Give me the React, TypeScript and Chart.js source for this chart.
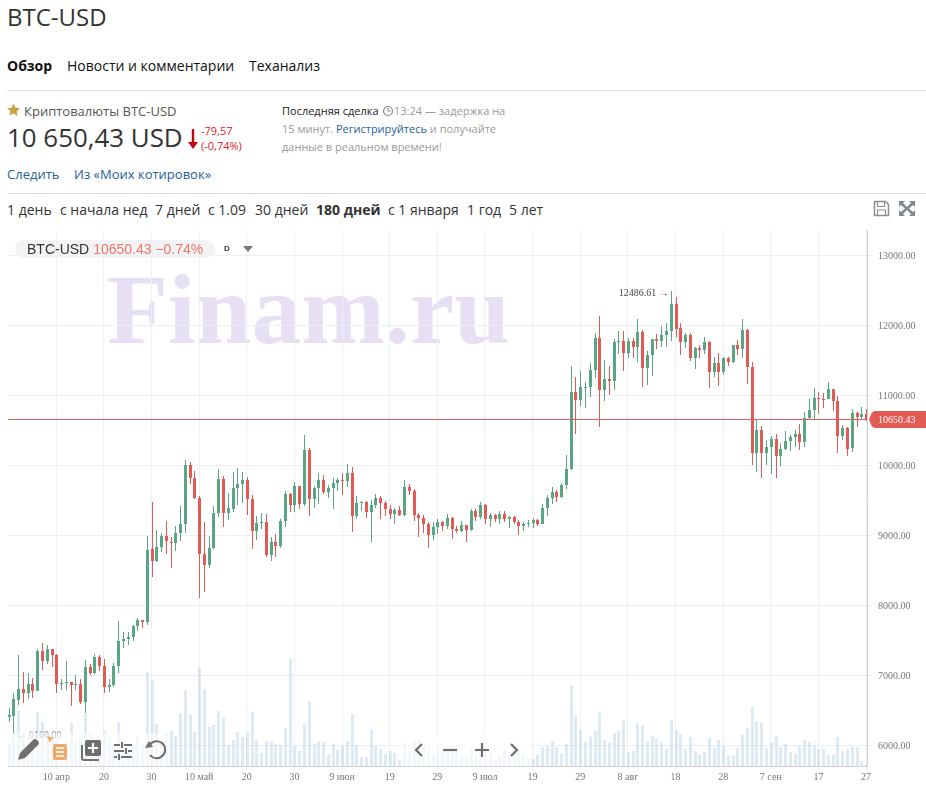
import React, { useEffect, useRef } from "react";
import { Chart, registerables } from "chart.js";

Chart.register(...registerables);

const lastPrice = 10650.43;
const highMark = 12486.61;
const lowMark = 6160;
const tickDays = [10, 20, 30, 40, 50, 60, 70, 80, 90, 100, 110, 120, 130, 140, 150, 160, 170, 180];
const tickLabels = ["10 апр", "20", "30", "10 май", "20", "30", "9 июн", "19", "29", "9 июл", "19", "29", "8 авг", "18", "28", "7 сен", "17", "27"];
const priceTicks = [6000, 7000, 8000, 9000, 10000, 11000, 12000, 13000];
const periods: [string, number, boolean][] = [
  ["1 день", 7, false], ["с начала нед", 60, false], ["7 дней", 155, false], ["с 1.09", 208, false],
  ["30 дней", 255, false], ["180 дней", 316, true], ["с 1 января", 388, false], ["1 год", 467, false], ["5 лет", 509, false],
];

const opens = [
  6410, 6426, 6650, 6807, 6745, 6879, 6779, 7350, 7207, 7378,
  7293, 6886, 6896, 6907, 6870, 6879, 6621, 7121, 7036, 7264,
  7136, 6836, 6864, 7136, 7493, 7521, 7550, 7707, 7793, 7764,
  8807, 8636, 8836, 8993, 8907, 8893, 9036, 9164, 10007, 9821,
  9536, 8736, 8579, 8821, 9321, 9807, 9321, 9379, 9679, 9736,
  9793, 9521, 9064, 9179, 9193, 8721, 8907, 8850, 9207, 9593,
  9436, 9707, 9450, 10221, 9521, 9679, 9793, 9621, 9679, 9750,
  9793, 9779, 9893, 9279, 9464, 9479, 9336, 9436, 9536, 9464,
  9379, 9307, 9364, 9293, 9693, 9636, 9293, 9250, 9164, 9007,
  9121, 9193, 9136, 9250, 9093, 9064, 9150, 9079, 9350, 9264,
  9436, 9236, 9293, 9236, 9307, 9236, 9264, 9193, 9136, 9164,
  9178, 9221, 9164, 9393, 9536, 9621, 9550, 9721, 9950, 11050,
  10936, 11114, 11121, 11364, 11821, 11079, 11236, 11207, 11771, 11778,
  11607, 11778, 11693, 11907, 11393, 11579, 11807, 11779, 11864, 11921,
  12307, 11964, 11764, 11864, 11536, 11679, 11650, 11764, 11336, 11464,
  11336, 11536, 11479, 11721, 11664, 11936, 11407, 10179, 10507, 10179,
  10264, 10379, 10136, 10236, 10350, 10407, 10450, 10336, 10679, 10793,
  10964, 10950, 10950, 11093, 10921, 10421, 10536, 10250, 10750, 10693,
  10736,
];
const closes = [
  6430, 6664, 6807, 6755, 6879, 6779, 7350, 7212, 7378, 7293,
  6879, 6893, 6900, 6864, 6875, 6621, 7121, 7036, 7264, 7136,
  6836, 6864, 7136, 7493, 7521, 7550, 7707, 7793, 7764, 8793,
  8640, 8836, 8993, 8921, 8893, 9036, 9164, 10007, 9821, 9536,
  8736, 8579, 8821, 9321, 9807, 9321, 9393, 9679, 9736, 9793,
  9521, 9064, 9179, 9193, 8721, 8907, 8850, 9207, 9593, 9436,
  9707, 9450, 10221, 9521, 9679, 9793, 9621, 9679, 9750, 9793,
  9779, 9893, 9279, 9464, 9479, 9336, 9436, 9536, 9464, 9379,
  9307, 9364, 9293, 9693, 9636, 9293, 9250, 9164, 9007, 9121,
  9193, 9136, 9250, 9093, 9064, 9150, 9079, 9350, 9264, 9436,
  9236, 9293, 9236, 9307, 9236, 9264, 9193, 9136, 9164, 9178,
  9221, 9164, 9393, 9536, 9621, 9550, 9721, 9950, 11050, 10936,
  11121, 11121, 11364, 11821, 11079, 11236, 11207, 11764, 11778, 11607,
  11778, 11693, 11907, 11393, 11579, 11807, 11779, 11864, 11921, 12307,
  11950, 11764, 11864, 11536, 11679, 11650, 11764, 11336, 11464, 11336,
  11536, 11479, 11721, 11664, 11936, 11407, 10179, 10507, 10179, 10264,
  10379, 10136, 10236, 10350, 10407, 10450, 10336, 10679, 10793, 10964,
  10950, 10940, 11093, 10921, 10421, 10536, 10236, 10750, 10693, 10736,
  10650.43,
];
const highs = [
  6540, 6745, 7293, 7050, 7036, 6960, 7378, 7464, 7436, 7378,
  7307, 6950, 7207, 6907, 7007, 6950, 7221, 7164, 7307, 7293,
  7236, 6950, 7179, 7779, 7621, 7621, 7721, 7821, 7793, 8993,
  9479, 9079, 9036, 9207, 8979, 9136, 9421, 10079, 10050, 9921,
  9564, 9193, 8993, 9421, 9950, 9850, 9607, 9907, 9964, 9907,
  9836, 9579, 9279, 9321, 9307, 8979, 9021, 9236, 9636, 9607,
  9764, 9707, 10436, 10250, 9707, 9893, 9864, 9721, 9821, 9821,
  9893, 10021, 9979, 9564, 9493, 9493, 9507, 9593, 9564, 9493,
  9436, 9393, 9421, 9793, 9736, 9664, 9321, 9293, 9193, 9193,
  9236, 9207, 9307, 9264, 9136, 9207, 9150, 9379, 9379, 9479,
  9450, 9321, 9307, 9350, 9350, 9279, 9279, 9221, 9193, 9221,
  9250, 9236, 9450, 9579, 9693, 9650, 9750, 10150, 11421, 11264,
  11350, 11193, 11464, 11893, 12136, 11507, 11421, 11807, 11921, 11921,
  11821, 11821, 12093, 11936, 11636, 11807, 11879, 11993, 12036, 12486.61,
  12407, 12036, 11893, 11893, 11693, 11721, 11836, 11779, 11550, 11607,
  11550, 11550, 11721, 11793, 12093, 11950, 11479, 10650, 10564, 10364,
  10421, 10450, 10321, 10493, 10436, 10507, 10593, 10764, 10950, 11107,
  11050, 11036, 11193, 11093, 10993, 10579, 10550, 10807, 10764, 10836,
  10807,
];
const lows = [
  6340, 6160, 6578, 6612, 6664, 6679, 6779, 7079, 7164, 7121,
  6755, 6793, 6793, 6564, 6793, 6593, 6469, 7007, 7021, 7064,
  6750, 6764, 6840, 7036, 7393, 7436, 7493, 7636, 7679, 7721,
  8407, 8621, 8764, 8736, 8536, 8779, 8921, 9036, 9736, 9521,
  8107, 8193, 8536, 8807, 9264, 9121, 9221, 9336, 9436, 9464,
  9293, 8807, 8936, 9093, 8693, 8636, 8693, 8821, 9121, 9336,
  9336, 9379, 9421, 9279, 9393, 9450, 9593, 9536, 9379, 9636,
  9579, 9693, 9050, 9236, 9350, 9250, 8907, 9393, 9236, 9279,
  9236, 9164, 9279, 9279, 9579, 9207, 8979, 9036, 8821, 8936,
  9021, 9064, 9093, 8950, 9036, 9050, 8907, 9064, 9207, 9236,
  9164, 9121, 9193, 9164, 9193, 9107, 9164, 9007, 9064, 9121,
  9107, 9136, 9164, 9279, 9450, 9479, 9536, 9664, 9936, 10450,
  10850, 10821, 10979, 11250, 10550, 10921, 11007, 11079, 11593, 11350,
  11536, 11536, 11479, 11121, 11150, 11279, 11664, 11693, 11693, 11779,
  11836, 11579, 11679, 11493, 11379, 11536, 11593, 11107, 11264, 11136,
  11293, 11421, 11464, 11579, 11536, 11164, 10007, 9907, 9821, 10007,
  9879, 9821, 9993, 10221, 10207, 10264, 10221, 10264, 10650, 10664,
  10736, 10821, 10950, 10779, 10179, 10364, 10136, 10193, 10550, 10664,
  10636,
];
const volumes = [
  23, 33, 55, 33, 29, 29, 54, 44, 33, 31,
  26, 19, 25, 43, 24, 28, 53, 33, 26, 24,
  35, 28, 21, 44, 22, 22, 21, 30, 21, 94,
  86, 42, 22, 33, 35, 30, 53, 76, 51, 34,
  98, 77, 39, 41, 55, 49, 21, 26, 34, 29,
  33, 54, 26, 13, 25, 24, 22, 21, 38, 107,
  20, 15, 42, 64, 22, 24, 24, 12, 22, 16,
  20, 25, 52, 21, 9, 9, 36, 20, 17, 12,
  15, 13, 6, 23, 15, 26, 26, 20, 16, 11,
  17, 13, 17, 21, 16, 10, 9, 19, 12, 16,
  17, 13, 6, 10, 17, 14, 17, 16, 12, 8,
  7, 11, 19, 20, 25, 19, 13, 22, 81, 50,
  36, 24, 30, 35, 54, 26, 23, 32, 35, 46,
  14, 15, 43, 40, 25, 30, 27, 24, 17, 46,
  36, 32, 17, 29, 15, 11, 14, 28, 18, 26,
  20, 10, 11, 18, 31, 38, 59, 45, 43, 18,
  23, 30, 19, 22, 14, 12, 20, 26, 24, 21,
  17, 17, 11, 11, 29, 15, 17, 19, 19, 5,
  2,
];

const GREEN = "#59a584";
const RED = "#e15a54";
const SERIF = '"Liberation Serif", serif';
const SANS = '"Open Sans", sans-serif';

const snapPlugin = {
  id: "snap",
  beforeDatasetsDraw(chart: any) {
    chart.data.datasets.forEach((_: any, d: number) => {
      chart.getDatasetMeta(d).data.forEach((el: any) => {
        el.x = Math.round(el.x) + 0.5;
        el.y = Math.round(el.y);
        el.base = Math.round(el.base);
        if (Math.abs(el.y - el.base) < 1) el.base = el.y + 1;
      });
    });
  },
};

const watermarkPlugin = {
  id: "watermark",
  beforeDraw(chart: any) {
    const ctx = chart.ctx;
    ctx.save();
    ctx.font = `bold 100px ${SERIF}`;
    ctx.fillStyle = "#e7e0f4";
    ctx.textBaseline = "alphabetic";
    ctx.textAlign = "left";
    ctx.fillText("Finam.ru", 107, 113);
    ctx.restore();
  },
};

const marksPlugin = {
  id: "marks",
  afterDatasetsDraw(chart: any) {
    const { ctx, chartArea: area, scales } = chart;
    const y = Math.round(scales.y.getPixelForValue(lastPrice)) - 0.5;
    ctx.save();
    ctx.strokeStyle = "#d8635e";
    ctx.lineWidth = 1;
    ctx.beginPath();
    ctx.moveTo(area.left, y);
    ctx.lineTo(area.right, y);
    ctx.stroke();
    ctx.fillStyle = RED;
    ctx.beginPath();
    ctx.moveTo(926, y - 8.5);
    ctx.lineTo(876, y - 8.5);
    ctx.quadraticCurveTo(872, y - 8.5, 871, y - 5);
    ctx.lineTo(869, y);
    ctx.lineTo(871, y + 5);
    ctx.quadraticCurveTo(872, y + 8.5, 876, y + 8.5);
    ctx.lineTo(926, y + 8.5);
    ctx.closePath();
    ctx.fill();
    ctx.font = `10px ${SERIF}`;
    ctx.fillStyle = "#fff";
    ctx.textBaseline = "middle";
    ctx.textAlign = "left";
    ctx.fillText(lastPrice.toFixed(2), 878, y + 1);

    ctx.fillStyle = "#444";
    ctx.textAlign = "right";
    const hx = scales.x.getPixelForValue(highs.indexOf(highMark));
    const hy = scales.y.getPixelForValue(highMark);
    ctx.fillText(highMark.toFixed(2) + " →", hx - 2, hy + 2);
    ctx.fillStyle = "#808080";
    ctx.textAlign = "left";
    const lx = scales.x.getPixelForValue(lows.indexOf(lowMark));
    const ly = scales.y.getPixelForValue(lowMark);
    ctx.fillText("← " + lowMark.toFixed(2), lx + 3, ly + 1);
    ctx.restore();
  },
};

function T({ x, y, size = 14, color = "#333", bold = false, children }: any) {
  return (
    <div
      style={{
        position: "absolute", left: x, top: y - 12, height: 24, lineHeight: "24px", whiteSpace: "nowrap",
        fontFamily: SANS, fontSize: size, color, fontWeight: bold ? 700 : 400,
      }}
    >
      {children}
    </div>
  );
}

function Rule({ y }: { y: number }) {
  return <div style={{ position: "absolute", left: 7, width: 919, top: y, height: 1, background: "#dedede" }} />;
}

function Toolbar() {
  const fade = (left: number, width: number): React.CSSProperties => ({
    position: "absolute", left, width, top: 733, height: 33, background: "rgba(255,255,255,0.62)",
  });
  const gray = "#6f6f6f";
  return (
    <>
      <div style={fade(8, 162)} />
      <div style={fade(403, 129)} />
      <svg style={{ position: "absolute", left: 0, top: 730 }} width="926" height="40" viewBox="0 730 926 40">
        <path d="M18 760 l2 -7 l13 -13 q2 -2 4 0 l1 1 q2 2 0 4 l-13 13 z" fill={gray} />
        <path d="M47 736 l7 2 l-3 2 l-1 3 z" fill="#f0a868" />
        <rect x="53" y="744" width="14" height="16" rx="2" fill="#f0a868" />
        <path d="M56 748h8M56 752h8M56 756h8" stroke="#fff" strokeWidth="1.6" />
        <path d="M82 745 v13 a2 2 0 0 0 2 2 h15" fill="none" stroke={gray} strokeWidth="2" />
        <rect x="85" y="740" width="16" height="16" rx="2" fill={gray} />
        <path d="M93 743v10M88 748h10" stroke="#fff" strokeWidth="2.2" />
        <path d="M114 745h6M124 745h8M114 751h10M128 751h4M114 757h3M121 757h11" stroke={gray} strokeWidth="2" />
        <path d="M122 742v6M126 748v6M119 754v6" stroke={gray} strokeWidth="2" />
        <path d="M149 746 a8.5 8.5 0 1 1 1 9" fill="none" stroke={gray} strokeWidth="2" />
        <path d="M145 748 l8 -1 l-4 -6 z" fill={gray} />
        <path d="M422 744 l-6 6 l6 6" fill="none" stroke={gray} strokeWidth="2.2" />
        <path d="M443 750h14" stroke={gray} strokeWidth="2.2" />
        <path d="M475 750h14M482 743v14" stroke={gray} strokeWidth="2.2" />
        <path d="M511 744 l6 6 l-6 6" fill="none" stroke={gray} strokeWidth="2.2" />
      </svg>
    </>
  );
}

const noPadding = (s: any) => {
  s.paddingTop = 0;
  s.paddingBottom = 0;
  s.paddingLeft = 0;
  s.paddingRight = 0;
};

export default function App() {
  const ref = useRef<HTMLCanvasElement>(null);
  useEffect(() => {
    const days = closes.map((_, i) => i);
    const colors = closes.map((c, i) => (c >= opens[i] ? GREEN : RED));
    const common = { grouped: false, borderWidth: 0, inflateAmount: 0, borderSkipped: false };
    const chart = new Chart(ref.current!, {
      type: "bar",
      data: {
        datasets: [
          { ...common, label: "body", order: 1, barThickness: 3, yAxisID: "y", backgroundColor: colors,
            data: days.map((i) => ({ x: i, y: [opens[i], closes[i]] })) },
          { ...common, label: "wick", order: 2, barThickness: 1, yAxisID: "y", backgroundColor: colors,
            data: days.map((i) => ({ x: i, y: [lows[i], highs[i]] })) },
          { ...common, label: "volume", order: 3, barThickness: 3, yAxisID: "vol", backgroundColor: "rgba(176,204,228,0.42)",
            data: days.map((i) => ({ x: i, y: volumes[i] })) },
        ],
      } as any,
      options: {
        responsive: false,
        animation: false,
        layout: { padding: { left: 8 } },
        plugins: { legend: { display: false }, tooltip: { enabled: false } },
        scales: {
          x: {
            type: "linear", offset: false, min: -0.14, max: 180.2,
            afterBuildTicks: (s: any) => { s.ticks = tickDays.map((value) => ({ value })); },
            afterFit: (s: any) => { s.height = 34; noPadding(s); },
            grid: { color: "#eceff3", offset: false, tickLength: 4 },
            border: { color: "#cfd3d6" },
            ticks: {
              autoSkip: false, maxRotation: 0, padding: 1, color: "#777",
              font: { family: SERIF, size: 10 },
              callback: (v: any) => tickLabels[tickDays.indexOf(v)] ?? "",
            },
          },
          y: {
            type: "linear", position: "right", min: 5707, max: 13364.3,
            afterBuildTicks: (s: any) => { s.ticks = priceTicks.map((value) => ({ value })); },
            afterFit: (s: any) => { s.width = 59; noPadding(s); },
            grid: { color: "#eceff3", tickLength: 5 },
            border: { color: "#cfd3d6" },
            ticks: {
              padding: 6, labelOffset: 1, color: "#777", font: { family: SERIF, size: 10 },
              callback: (v: any) => Number(v).toFixed(2),
            },
          },
          vol: { type: "linear", display: false, min: 0, max: 536, afterFit: noPadding },
        },
      } as any,
      plugins: [snapPlugin, watermarkPlugin, marksPlugin],
    });
    return () => chart.destroy();
  }, []);

  const link = "#1f6199";
  const muted = "#999";
  return (
    <div style={{ position: "absolute", left: 0, top: 0, width: 926, height: 800, overflow: "hidden", background: "#fff" }}>
      <canvas ref={ref} width={926} height={570} style={{ position: "absolute", left: 0, top: 230, width: 926, height: 570 }} />
      <T x={7} y={17} size={24}>BTC-USD</T>
      <T x={7} y={66} bold color="#111">Обзор</T>
      <T x={67} y={66} color="#111">Новости и комментарии</T>
      <T x={249} y={66} color="#111">Теханализ</T>
      <Rule y={90} />
      <svg style={{ position: "absolute", left: 6, top: 103 }} width="15" height="14" viewBox="0 0 24 24">
        <path d="M12 1l3.4 7.2 7.8 1-5.700 5.400 1.500 7.800L12 17.600 5 21.400l1.500-7.800L.8 9.200l7.800-1z" fill="#c9a13f" />
      </svg>
      <T x={24} y={111} size={13} color="#555">Криптовалюты BTC-USD</T>
      <T x={7} y={137} size={25.9}>10 650,43 USD</T>
      <svg style={{ position: "absolute", left: 186, top: 128 }} width="14" height="22" viewBox="0 0 14 22">
        <path d="M7 1v15" stroke="#c8000a" strokeWidth="2.4" />
        <path d="M2 14h10l-5 7z" fill="#c8000a" />
      </svg>
      <T x={201} y={131} size={11} color="#e0202a">-79,57</T>
      <T x={201} y={146} size={11} color="#e0202a">(-0,74%)</T>
      <T x={282} y={111} size={11} color="#222">Последняя сделка</T>
      <svg style={{ position: "absolute", left: 382, top: 105 }} width="12" height="12" viewBox="0 0 12 12">
        <circle cx="6" cy="6" r="4.5" fill="none" stroke="#888" strokeWidth="1.2" />
        <path d="M6 3v3h2.5" fill="none" stroke="#888" strokeWidth="1" />
      </svg>
      <T x={394} y={111} size={11} color={muted}>13:24 — задержка на</T>
      <T x={282} y={129} size={11} color={muted}>15 минут. <span style={{ color: link }}>Регистрируйтесь</span> и получайте</T>
      <T x={282} y={147} size={11} color={muted}>данные в реальном времени!</T>
      <T x={7} y={174} size={13} color={link}>Следить</T>
      <T x={74} y={174} size={13} color={link}>Из «Моих котировок»</T>
      <Rule y={193} />
      {periods.map(([label, x, bold]) => (
        <T key={label} x={x} y={210} bold={bold}>{label}</T>
      ))}
      <svg style={{ position: "absolute", left: 873, top: 200 }} width="17" height="17" viewBox="0 0 17 17">
        <path d="M1.5 1.5h11l3 3v11h-14z" fill="none" stroke="#8f8f8f" strokeWidth="1.5" />
        <path d="M4.5 2v4.500h7V2M4.500 15v-5h8v5" fill="none" stroke="#8f8f8f" strokeWidth="1.2" />
      </svg>
      <svg style={{ position: "absolute", left: 898, top: 200 }} width="18" height="17" viewBox="0 0 18 17">
        <path d="M1 1h6l-2 2 4 4 4-4-2-2h6v6l-2-2-4 3.500 4 3.500 2-2v6h-6l2-2-4-4-4 4 2 2H1v-6l2 2 4-3.500L3 5 1 7z" fill="#7f8a90" />
      </svg>
      <div style={{ position: "absolute", left: 15, top: 240, width: 200, height: 18, borderRadius: 9, background: "#f2f3f5" }} />
      <div style={{ position: "absolute", left: 27, top: 240, height: 18, lineHeight: "18px", whiteSpace: "nowrap", fontFamily: '"Liberation Sans", sans-serif', fontSize: 14, color: "#333" }}>
        BTC-USD <span style={{ color: "#ee7465" }}>10650.43 −0.74%</span>
      </div>
      <div style={{ position: "absolute", left: 224, top: 243, fontFamily: '"Liberation Sans", sans-serif', fontSize: 8, fontWeight: 700, lineHeight: "12px", color: "#333" }}>D</div>
      <svg style={{ position: "absolute", left: 243, top: 246 }} width="11" height="7" viewBox="0 0 11 7">
        <path d="M0 0h10l-5 6z" fill="#777" />
      </svg>
      <Toolbar />
    </div>
  );
}
